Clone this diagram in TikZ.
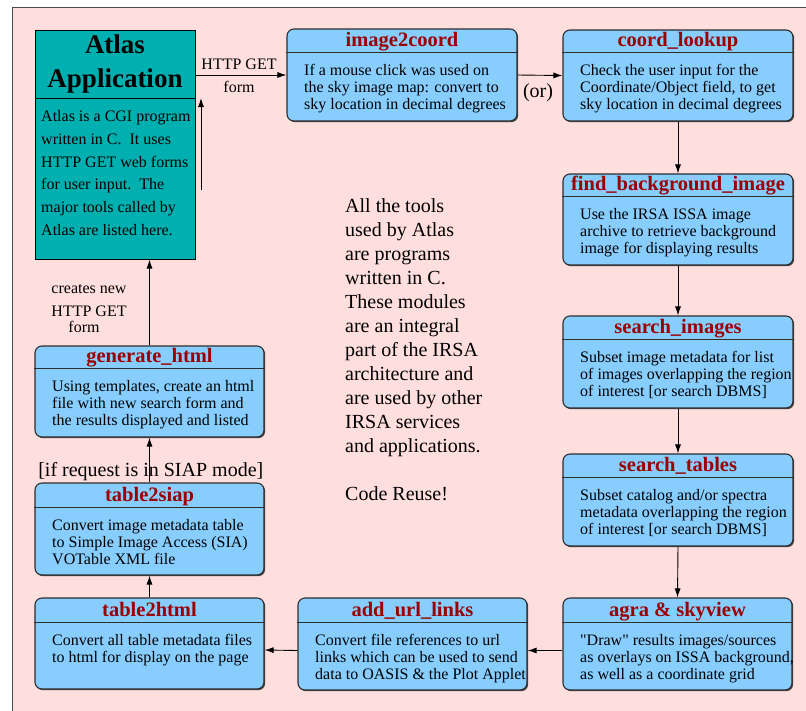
\documentclass[tikz,border=0pt]{standalone}
\usepackage{fontspec}
\setmainfont{Liberation Serif}
\newfontfamily\plainserif{Liberation Serif}[Ligatures=TeXOff]
\usetikzlibrary{arrows.meta,shadows}
\definecolor{bgpink}{RGB}{255,222,222}
\definecolor{boxblue}{RGB}{135,206,255}
\definecolor{atlasteal}{RGB}{0,175,175}
\definecolor{titlered}{RGB}{155,0,0}
\definecolor{edgegray}{RGB}{45,45,45}
\newcommand{\llines}[1]{\begin{tabular}[t]{@{}l@{}}#1\end{tabular}}
\newcommand{\clines}[1]{\begin{tabular}[t]{@{}c@{}}#1\end{tabular}}
\newcommand{\sq}{{\plainserif\char34\relax}}
\tikzset{
  toolbox/.style={draw=edgegray, line width=1.1pt, fill=boxblue, rounded corners=7pt,
    drop shadow={shadow xshift=1.2pt, shadow yshift=-1.2pt, fill=black, opacity=0.7},
    inner sep=0pt},
  toolline/.style={draw=edgegray, line width=1pt},
  tooltitle/.style={font=\fontsize{20.5}{22}\selectfont\bfseries, text=titlered, inner sep=0pt},
  toolbody/.style={font=\fontsize{16}{17}\selectfont, inner sep=0pt},
  arr/.style={draw=black, line width=0.9pt, -{Latex[length=9pt,width=6pt]}},
  lbl/.style={font=\fontsize{16}{17}\selectfont, inner sep=0pt}
}
\newcommand{\irsabox}[8]{%
  \node[toolbox, minimum width={(#4-#2)*1pt}, minimum height={(#5-#3)*1pt}] (#1) at ({(#2+#4)/2},{(#3+#5)/2}) {};
  \draw[toolline] (#1.west |- 0,#6) -- (#1.east |- 0,#6);
  \node[tooltitle, anchor=base] (#1-t) at ({(#2+#4)/2},{#6-6}) {#7};
  \node[toolbody, anchor=base west] (#1-b) at ({#2+17},{#6+23}) {\llines{#8}};
}
\begin{document}
\begin{tikzpicture}[x=1pt,y=-1pt]
\useasboundingbox (0,0) rectangle (806,710);
\fill[white] (0,0) rectangle (806,710);
\draw[fill=bgpink, draw=gray!60!black, line width=1pt] (12,7) rectangle (820,725);

% Atlas application box
\node[draw=black, line width=1pt, fill=atlasteal, minimum width=160pt, minimum height=229pt, inner sep=0pt] (atlas) at (115,144.5) {};
\draw[line width=1pt] (atlas.west |- 0,98) -- (atlas.east |- 0,98);
\node[font=\fontsize{27}{34}\selectfont\bfseries, anchor=base, inner sep=0pt] (atlas-t) at (115,53) {\clines{Atlas\\Application}};
\node[font=\fontsize{16}{22.7}\selectfont, anchor=base west, inner sep=0pt] (atlas-b) at (41,121.7)
  {\llines{Atlas is a CGI program\\written in C.\ \ It uses\\HTTP GET web forms\\for user input.\ \ The\\major tools called by\\Atlas are listed here.}};

\irsabox{i2c}{287}{29}{517}{121}{52}{image2coord}{If a mouse click was used on\\the sky image map: convert to\\sky location in decimal degrees}
\irsabox{cl}{563}{30}{793}{121}{52}{coord\_lookup}{Check the user input for the\\Coordinate/Object field, to get\\sky location in decimal degrees}
\irsabox{fbg}{563}{174}{793}{265}{196}{find\_background\_image}{Use the IRSA ISSA image\\archive to retrieve background\\image for displaying results}
\irsabox{si}{563}{316}{793}{408}{339}{search\_images}{Subset image metadata for list\\of images overlapping the region\\of interest [or search DBMS]}
\irsabox{st}{563}{454}{793}{546}{477}{search\_tables}{Subset catalog and/or spectra\\metadata overlapping the region\\of interest [or search DBMS]}
\irsabox{agra}{563}{598}{792}{690}{622}{agra \& skyview}{\sq Draw\sq{} results images/sources\\as overlays on ISSA background,\\as well as a coordinate grid}
\irsabox{url}{298}{598}{527}{690}{622}{add\_url\_links}{Convert file references to url\\links which can be used to send\\data to OASIS \& the Plot Applet}
\irsabox{t2h}{35}{598}{264}{689}{622}{table2html}{Convert all table metadata files\\to html for display on the page}
\irsabox{t2s}{35}{483}{264}{575}{507}{table2siap}{Convert image metadata table\\to Simple Image Access (SIA)\\VOTable XML file}
\irsabox{gen}{35}{346}{264}{437}{368}{generate\_html}{Using templates, create an html\\file with new search form and\\the results displayed and listed}

% centre text
\node[font=\fontsize{20}{24}\selectfont, anchor=base west, inner sep=0pt] (note) at (345,212)
  {\llines{All the tools\\used by Atlas\\are programs\\written in C.\\These modules\\are an integral\\part of the IRSA\\architecture and\\are used by other\\IRSA services\\and applications.\\ \\Code Reuse!}};

% connectors
\draw[arr] (atlas.east |- i2c.west) -- (i2c.west);
\draw[arr] (i2c.east) -- (cl.west);
\draw[arr] (cl.south) -- (fbg.north);
\draw[arr] (fbg.south) -- (si.north);
\draw[arr] (si.south) -- (st.north);
\draw[arr] (st.south) -- (agra.north);
\draw[arr] ([yshift=-6.5pt]agra.west) -- ([yshift=-6.5pt]url.east);
\draw[arr] ([yshift=-6.5pt]url.west) -- ([yshift=-6.5pt]t2h.east);
\draw[arr] (t2h.north) -- (t2s.south);
\draw[arr] (t2s.north) -- (gen.south);
\draw[arr] (gen.north) -- (gen.north |- atlas.south);
\coordinate (up1) at (201,190);
\coordinate (up2) at (201,98);
\draw[arr] (up1) -- (up2);

% labels
\node[lbl, anchor=base] (l-http) at (239,69) {HTTP GET};
\node[lbl, anchor=base] (l-form) at (239,92.7) {form};
\node[font=\fontsize{20}{22}\selectfont, anchor=base, inner sep=0pt] (l-or) at (538,97.3) {(or)};
\node[lbl, anchor=base] (l-creates) at (89,293) {creates new};
\node[lbl, anchor=base] (l-http2) at (89,316.7) {HTTP GET};
\node[lbl, anchor=base] (l-form2) at (84,332.7) {form};
\node[font=\fontsize{20}{22}\selectfont, anchor=base, inner sep=0pt] (l-siap) at (150.8,476.7) {[if request is in SIAP mode]};
\end{tikzpicture}
\end{document}
